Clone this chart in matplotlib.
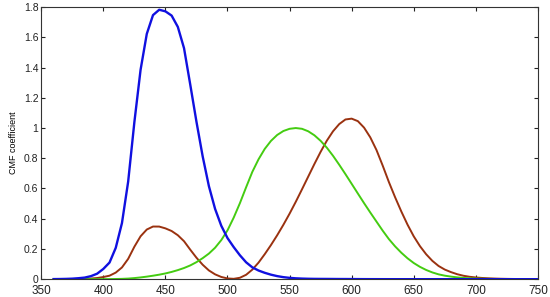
import numpy as np
import matplotlib
matplotlib.use("Agg")
import matplotlib.pyplot as plt
from matplotlib.ticker import FuncFormatter

# CIE 1931 2-degree colour matching functions, 5 nm steps
wavelength = list(range(360, 755, 5))

x_bar = [0.00013, 0.00023, 0.00041, 0.00074, 0.00137, 0.00224, 0.00424, 0.00765,
         0.01431, 0.02319, 0.04351, 0.07763, 0.13438, 0.21477, 0.2839, 0.3285,
         0.34828, 0.34806, 0.3362, 0.3187, 0.2908, 0.2511, 0.19536, 0.1421,
         0.09564, 0.05795, 0.03201, 0.0147, 0.0049, 0.0024, 0.0093, 0.0291,
         0.06327, 0.1096, 0.1655, 0.22575, 0.2904, 0.3597, 0.43345, 0.51205,
         0.5945, 0.6784, 0.7621, 0.8425, 0.9163, 0.9786, 1.0263, 1.0567,
         1.0622, 1.0456, 1.0026, 0.9384, 0.85445, 0.7514, 0.6424, 0.5419,
         0.4479, 0.3608, 0.2835, 0.2187, 0.1649, 0.1212, 0.0874, 0.0636,
         0.04677, 0.0329, 0.0227, 0.01584, 0.01136, 0.00811, 0.00579, 0.00411,
         0.0029, 0.00205, 0.00144, 0.001, 0.00069, 0.00048, 0.00033]

y_bar = [0.0, 0.00001, 0.00001, 0.00002, 0.00004, 0.00006, 0.00012, 0.00022,
         0.0004, 0.00064, 0.00121, 0.00218, 0.004, 0.0073, 0.0116, 0.01684,
         0.023, 0.0298, 0.038, 0.048, 0.06, 0.0739, 0.09098, 0.1126,
         0.13902, 0.1693, 0.20802, 0.2586, 0.323, 0.4073, 0.503, 0.6082,
         0.71, 0.7932, 0.862, 0.91485, 0.954, 0.9803, 0.99495, 1.0,
         0.995, 0.9786, 0.952, 0.9154, 0.87, 0.8163, 0.757, 0.6949,
         0.631, 0.5668, 0.503, 0.4412, 0.381, 0.321, 0.265, 0.217,
         0.175, 0.1382, 0.107, 0.0816, 0.061, 0.04458, 0.032, 0.0232,
         0.017, 0.01192, 0.00821, 0.00572, 0.0041, 0.00293, 0.00209, 0.00148,
         0.00105, 0.00074, 0.00052, 0.00036, 0.00025, 0.00017, 0.00012]

z_bar = [0.00061, 0.00109, 0.00195, 0.00349, 0.00645, 0.01055, 0.02005, 0.03621,
         0.06785, 0.1102, 0.2074, 0.3713, 0.6456, 1.03905, 1.3856, 1.62296,
         1.74706, 1.7826, 1.77211, 1.7441, 1.6692, 1.5281, 1.28764, 1.0419,
         0.81295, 0.6162, 0.46518, 0.3533, 0.272, 0.2123, 0.1582, 0.1117,
         0.07825, 0.05725, 0.04216, 0.02984, 0.0203, 0.0134, 0.00875, 0.00575,
         0.0039, 0.00275, 0.0021, 0.0018, 0.00165, 0.0014, 0.0011, 0.001,
         0.0008, 0.0006, 0.00034, 0.00024, 0.00019, 0.0001, 0.00005, 0.00003,
         0.00002, 0.00001, 0.0, 0.0, 0.0, 0.0, 0.0, 0.0,
         0.0, 0.0, 0.0, 0.0, 0.0, 0.0, 0.0, 0.0,
         0.0, 0.0, 0.0, 0.0, 0.0, 0.0, 0.0]

plt.rcParams["font.family"] = ["Liberation Sans", "DejaVu Sans"]

fig = plt.figure(figsize=(5.5, 2.97), dpi=100)
ax = fig.add_axes([0.075, 0.06, 0.903, 0.916])

ax.plot(wavelength, x_bar, color="#9a3210", lw=1.4)
ax.plot(wavelength, y_bar, color="#44cc11", lw=1.4)
ax.plot(wavelength, z_bar, color="#1010e0", lw=1.7)

ax.set_xlim(350, 750)
ax.set_ylim(0, 1.8)
ax.set_xticks(range(350, 751, 50))
ax.set_yticks(np.arange(0, 1.81, 0.2))
ax.yaxis.set_major_formatter(FuncFormatter(lambda v, p: f"{v:g}"))
ax.tick_params(direction="in", top=True, right=True,
               length=3, width=0.8, colors="#222222")
ax.tick_params(axis="x", labelsize=8.5, pad=4)
ax.tick_params(axis="y", labelsize=7.5, pad=2)
for s in ax.spines.values():
    s.set_color("#333333")
    s.set_linewidth(0.8)

ax.set_ylabel("CMF coefficient", fontsize=6.5, labelpad=4)

plt.savefig("out.png", dpi=100)
plt.close()
